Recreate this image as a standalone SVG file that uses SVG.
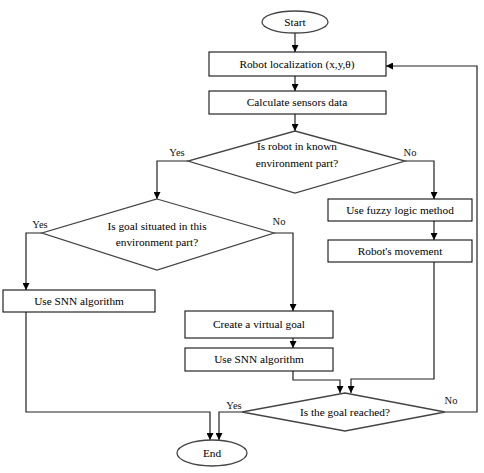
<svg xmlns="http://www.w3.org/2000/svg" width="484" height="473" viewBox="0 0 484 473">
<style>
.b{fill:#fff;stroke:#111;stroke-width:1.1}
.d{fill:#fff;stroke:#444;stroke-width:1.3}
.t{font-family:"Liberation Serif",serif;font-size:11.3px;fill:#000;text-anchor:middle}
.l{font-family:"Liberation Serif",serif;font-size:10.5px;fill:#111;text-anchor:middle}
.c{fill:none;stroke:#222;stroke-width:1.2}
</style>
<defs>
<marker id="a" viewBox="0 0 10 10" refX="10" refY="5" markerWidth="7" markerHeight="7" markerUnits="userSpaceOnUse" orient="auto"><path d="M0,0L10,5L0,10z" fill="#000"/></marker>
</defs>
<rect width="484" height="473" fill="#fff"/>
<g id="connectors">
<path class="c" d="M295,33V52" marker-end="url(#a)"/>
<path class="c" d="M295,76V91" marker-end="url(#a)"/>
<path class="c" d="M295,114V131" marker-end="url(#a)"/>
<path class="c" d="M188,161H157V199" marker-end="url(#a)"/>
<path class="c" d="M405,161H434V199" marker-end="url(#a)"/>
<path class="c" d="M434,221V240" marker-end="url(#a)"/>
<path class="c" d="M434,262V379H351V393" marker-end="url(#a)"/>
<path class="c" d="M42,233H26V290" marker-end="url(#a)"/>
<path class="c" d="M274,233H293V311" marker-end="url(#a)"/>
<path class="c" d="M293,338V348" marker-end="url(#a)"/>
<path class="c" d="M293,371V380H340V393" marker-end="url(#a)"/>
<path class="c" d="M26,312V412H210V440" marker-end="url(#a)"/>
<path class="c" d="M242,412H219V440" marker-end="url(#a)"/>
<path class="c" d="M445,412H477V66H386" marker-end="url(#a)"/>
<text class="l" x="177" y="156">Yes</text>
<text class="l" x="410" y="156">No</text>
<text class="l" x="40" y="228">Yes</text>
<text class="l" x="279" y="225">No</text>
<text class="l" x="234" y="409">Yes</text>
<text class="l" x="451" y="404">No</text>
</g>
<g id="start"><ellipse class="d" cx="295" cy="22" rx="33" ry="11"/><text class="t" x="295" y="26">Start</text></g>
<g id="localization"><rect class="b" x="209" y="52" width="177" height="24"/><text class="t" x="297" y="68">Robot localization (x,y,θ)</text></g>
<g id="sensors"><rect class="b" x="209" y="91" width="177" height="23"/><text class="t" x="297" y="106">Calculate sensors data</text></g>
<g id="known"><polygon class="d" points="295,131 405,161 295,193 188,161"/><text class="t" x="297" y="150">Is robot  in known</text><text class="t" x="297" y="167">environment part?</text></g>
<g id="situated"><polygon class="d" points="157,199 274,233 157,270 42,233"/><text class="t" x="157" y="230">Is goal situated in this</text><text class="t" x="157" y="246">environment part?</text></g>
<g id="snn1"><rect class="b" x="3" y="290" width="152" height="22"/><text class="t" x="79" y="305">Use SNN algorithm</text></g>
<g id="fuzzy"><rect class="b" x="328" y="199" width="144" height="22"/><text class="t" x="400" y="214">Use fuzzy logic method</text></g>
<g id="movement"><rect class="b" x="328" y="240" width="144" height="22"/><text class="t" x="400" y="255">Robot's movement</text></g>
<g id="virtual"><rect class="b" x="185" y="311" width="148" height="27"/><text class="t" x="259" y="328">Create a virtual goal</text></g>
<g id="snn2"><rect class="b" x="185" y="348" width="148" height="23"/><text class="t" x="259" y="363">Use SNN algorithm</text></g>
<g id="reached"><polygon class="d" points="345,393 445,412 345,431 242,412"/><text class="t" x="345" y="416">Is the goal reached?</text></g>
<g id="end"><ellipse class="d" cx="212" cy="453" rx="35" ry="13"/><text class="t" x="212" y="457">End</text></g>
</svg>
